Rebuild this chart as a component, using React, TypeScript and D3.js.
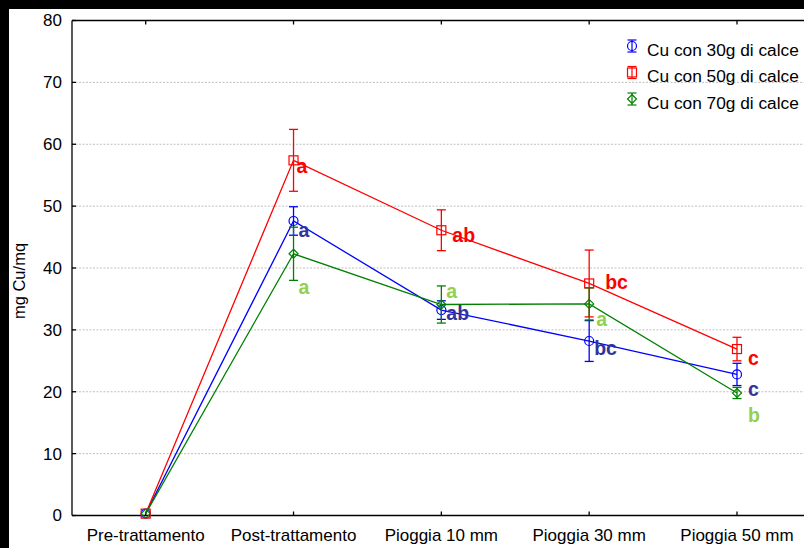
import React, { useEffect, useRef } from 'react'
import * as d3 from 'd3'

const categories = ['Pre-trattamento', 'Post-trattamento', 'Pioggia 10 mm', 'Pioggia 30 mm', 'Pioggia 50 mm']
const yTicks = [0, 10, 20, 30, 40, 50, 60, 70, 80]

const cu30 = [0.3, 47.6, 33.2, 28.2, 22.8]
const err30 = [0, 2.3, 1.5, 3.3, 1.8]
const cu50 = [0.3, 57.4, 46.1, 37.5, 26.9]
const err50 = [0, 5.0, 3.3, 5.4, 1.9]
const cu70 = [0.3, 42.3, 34.1, 34.2, 19.8]
const err70 = [0, 4.3, 3.0, 2.6, 0.9]

const letters30 = ['', 'a', 'ab', 'bc', 'c']
const letters50 = ['', 'a', 'ab', 'bc', 'c']
const letters70 = ['', 'a', 'a', 'a', 'b']

const seriesNames = ['Cu con 30g di calce', 'Cu con 50g di calce', 'Cu con 70g di calce']

// label nudges (px) so letters sit where the original put them
const nudge30 = [[0, 0], [5, 9], [5, 3], [5, 7], [11, 15]]
const nudge50 = [[0, 0], [3, 6], [11, 5], [16, -1], [11, 9]]
const nudge70 = [[0, 0], [5, 33], [5, -13], [7, 15], [11, 22]]

const App = () => {
    const svgRef = useRef(null)

    useEffect(() => {
        const width = 804
        const height = 548
        const margin = { top: 20.5, left: 72, bottom: 515.5 }
        const font = '"Liberation Sans", Arial, sans-serif'
        const fs = 17

        const svg = d3.select(svgRef.current)
        svg.selectAll('*').remove()

        svg.append('rect').attr('width', width).attr('height', height).attr('fill', '#000')
        svg.append('rect').attr('x', 9).attr('y', 9).attr('width', width).attr('height', height).attr('fill', '#fff')

        const x = d3.scalePoint()
            .domain(categories)
            .range([145.7, 737])

        const y = d3.scaleLinear()
            .domain([0, 80])
            .range([margin.bottom, margin.top])

        // grid
        svg.append('g')
            .selectAll('line')
            .data(yTicks.filter(t => t > 0 && t < 80))
            .enter()
            .append('line')
            .attr('x1', margin.left)
            .attr('x2', width)
            .attr('y1', d => y(d))
            .attr('y2', d => y(d))
            .attr('stroke', '#b0b0b0')
            .attr('stroke-width', 0.8)
            .attr('stroke-dasharray', '2,1.5')

        // frame
        const frame = svg.append('g').attr('stroke', '#000').attr('stroke-width', 1.3)
        frame.append('line').attr('x1', margin.left).attr('x2', width).attr('y1', margin.top).attr('y2', margin.top)
        frame.append('line').attr('x1', margin.left).attr('x2', width).attr('y1', margin.bottom).attr('y2', margin.bottom)
        frame.append('line').attr('x1', margin.left).attr('x2', margin.left).attr('y1', margin.top).attr('y2', margin.bottom)

        // ticks
        yTicks.forEach(t => {
            frame.append('line').attr('x1', margin.left).attr('x2', margin.left + 4).attr('y1', y(t)).attr('y2', y(t))
            svg.append('text')
                .attr('x', 62)
                .attr('y', y(t))
                .attr('dy', '0.35em')
                .attr('text-anchor', 'end')
                .attr('font-family', font)
                .attr('font-size', fs)
                .text(t)
        })
        categories.forEach(c => {
            frame.append('line').attr('x1', x(c)).attr('x2', x(c)).attr('y1', margin.bottom).attr('y2', margin.bottom - 4)
            frame.append('line').attr('x1', x(c)).attr('x2', x(c)).attr('y1', margin.top).attr('y2', margin.top + 4)
            svg.append('text')
                .attr('x', x(c))
                .attr('y', 541)
                .attr('text-anchor', 'middle')
                .attr('font-family', font)
                .attr('font-size', fs)
                .text(c)
        })

        svg.append('text')
            .attr('transform', 'translate(24.5,281) rotate(-90)')
            .attr('text-anchor', 'middle')
            .attr('font-family', font)
            .attr('font-size', 16.5)
            .text('mg Cu/mq')

        const series = [
            { vals: cu30, errs: err30, color: '#0000ff', marker: 'circle' },
            { vals: cu50, errs: err50, color: '#ff0000', marker: 'square' },
            { vals: cu70, errs: err70, color: '#008000', marker: 'diamond' },
        ]

        const drawMarker = (g, kind, cx, cy, color) => {
            if (kind === 'circle') {
                g.append('circle').attr('cx', cx).attr('cy', cy).attr('r', 4.5)
                    .attr('fill', 'none').attr('stroke', color).attr('stroke-width', 1.2)
            } else if (kind === 'square') {
                g.append('rect').attr('x', cx - 4.5).attr('y', cy - 4.5).attr('width', 9).attr('height', 9)
                    .attr('fill', 'none').attr('stroke', color).attr('stroke-width', 1.2)
            } else {
                g.append('path')
                    .attr('d', `M${cx},${cy - 4.5}L${cx + 4.5},${cy}L${cx},${cy + 4.5}L${cx - 4.5},${cy}Z`)
                    .attr('fill', 'none').attr('stroke', color).attr('stroke-width', 1.2)
            }
        }

        const line = d3.line()
            .x(d => x(d[0]))
            .y(d => y(d[1]))

        series.forEach(s => {
            const g = svg.append('g')
            g.append('path')
                .attr('d', line(categories.map((c, i) => [c, s.vals[i]])))
                .attr('fill', 'none')
                .attr('stroke', s.color)
                .attr('stroke-width', 1.3)
            categories.forEach((c, i) => {
                const e = s.errs[i]
                if (e > 0) {
                    g.append('line').attr('x1', x(c)).attr('x2', x(c))
                        .attr('y1', y(s.vals[i] - e)).attr('y2', y(s.vals[i] + e))
                        .attr('stroke', s.color).attr('stroke-width', 1.3)
                    ;[s.vals[i] - e, s.vals[i] + e].forEach(v => {
                        g.append('line').attr('x1', x(c) - 4.5).attr('x2', x(c) + 4.5)
                            .attr('y1', y(v)).attr('y2', y(v))
                            .attr('stroke', s.color).attr('stroke-width', 1.3)
                    })
                }
                drawMarker(g, s.marker, x(c), y(s.vals[i]), s.color)
            })
        })

        // significance letters
        const letterSets = [
            { vals: cu30, letters: letters30, nudge: nudge30, color: '#333399' },
            { vals: cu50, letters: letters50, nudge: nudge50, color: '#ff0000' },
            { vals: cu70, letters: letters70, nudge: nudge70, color: '#92d050' },
        ]
        letterSets.forEach(ls => {
            categories.forEach((c, i) => {
                if (!ls.letters[i]) return
                svg.append('text')
                    .attr('x', x(c) + ls.nudge[i][0])
                    .attr('y', y(ls.vals[i]) + ls.nudge[i][1])
                    .attr('dy', '0.35em')
                    .attr('font-family', font)
                    .attr('font-weight', 'bold')
                    .attr('font-size', 19.5)
                    .attr('fill', ls.color)
                    .text(ls.letters[i])
            })
        })

        // legend
        const legend = svg.append('g')
        series.forEach((s, i) => {
            const ly = 46 + i * 26.5
            const lx = 632
            legend.append('line').attr('x1', lx).attr('x2', lx).attr('y1', ly - 6).attr('y2', ly + 6)
                .attr('stroke', s.color).attr('stroke-width', 1.2)
            ;[ly - 6, ly + 6].forEach(v => {
                legend.append('line').attr('x1', lx - 4.5).attr('x2', lx + 4.5).attr('y1', v).attr('y2', v)
                    .attr('stroke', s.color).attr('stroke-width', 1.2)
            })
            drawMarker(legend, s.marker, lx, ly, s.color)
            legend.append('text')
                .attr('x', 647)
                .attr('y', ly + 3.5)
                .attr('dy', '0.35em')
                .attr('font-family', font)
                .attr('font-size', 17.3)
                .text(seriesNames[i])
        })
    }, [])

    return (
        <div style={{ position: 'absolute', left: 0, top: 0 }}>
            <svg ref={svgRef} width={804} height={548} style={{ display: 'block' }}></svg>
        </div>
    )
}

export default App
